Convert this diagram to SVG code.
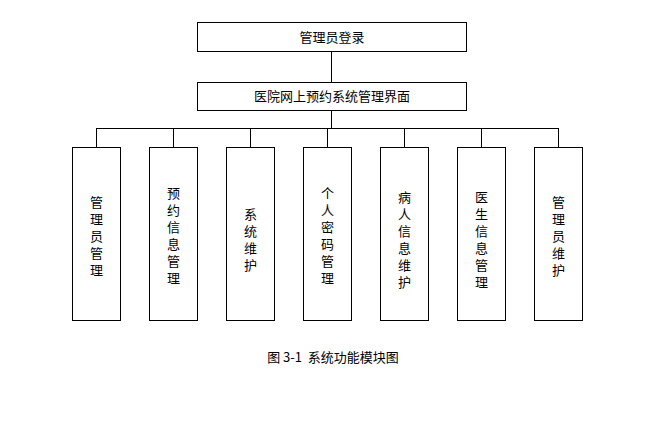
<svg xmlns="http://www.w3.org/2000/svg" width="663" height="439" viewBox="0 0 663 439">
<style>
rect{fill:#fff;stroke:#000;stroke-width:1}
line{stroke:#000;stroke-width:1}
text{font-family:"Noto Sans CJK SC","DejaVu Sans",sans-serif;font-size:13px;fill:#000;text-anchor:middle}
.v{writing-mode:vertical-rl;letter-spacing:4px;font-size:13px}
</style>
<rect x="0" y="0" width="663" height="439" style="stroke:none"/>
<g id="connectors">
<line x1="331.5" y1="51" x2="331.5" y2="82"/>
<line x1="331.5" y1="110" x2="331.5" y2="128"/>
<line x1="96.5" y1="128.5" x2="558.5" y2="128.5"/>
<line x1="96.5" y1="128" x2="96.5" y2="147"/>
<line x1="173.5" y1="128" x2="173.5" y2="147"/>
<line x1="250.5" y1="128" x2="250.5" y2="147"/>
<line x1="327.5" y1="128" x2="327.5" y2="147"/>
<line x1="404.5" y1="128" x2="404.5" y2="147"/>
<line x1="481.5" y1="128" x2="481.5" y2="147"/>
<line x1="558.5" y1="128" x2="558.5" y2="147"/>
</g>
<g id="login"><rect x="197.5" y="22.5" width="269" height="29"/><text x="332" y="42">管理员登录</text></g>
<g id="main"><rect x="197.5" y="82.5" width="269" height="28"/><text x="332" y="101">医院网上预约系统管理界面</text></g>
<g id="n1"><rect x="72.5" y="147.5" width="48" height="173"/><text class="v" x="96.5" y="238">管理员管理</text></g>
<g id="n2"><rect x="149.5" y="147.5" width="48" height="173"/><text class="v" x="173.5" y="238">预约信息管理</text></g>
<g id="n3"><rect x="226.5" y="147.5" width="48" height="173"/><text class="v" x="250.5" y="242">系统维护</text></g>
<g id="n4"><rect x="303.5" y="147.5" width="48" height="173"/><text class="v" x="327.5" y="238">个人密码管理</text></g>
<g id="n5"><rect x="380.5" y="147.5" width="48" height="173"/><text class="v" x="404.5" y="242">病人信息维护</text></g>
<g id="n6"><rect x="457.5" y="147.5" width="48" height="173"/><text class="v" x="481.5" y="242">医生信息管理</text></g>
<g id="n7"><rect x="534.5" y="147.5" width="48" height="173"/><text class="v" x="558.5" y="238">管理员维护</text></g>
<text x="333" y="362" xml:space="preserve">图 3-1  系统功能模块图</text>
</svg>
